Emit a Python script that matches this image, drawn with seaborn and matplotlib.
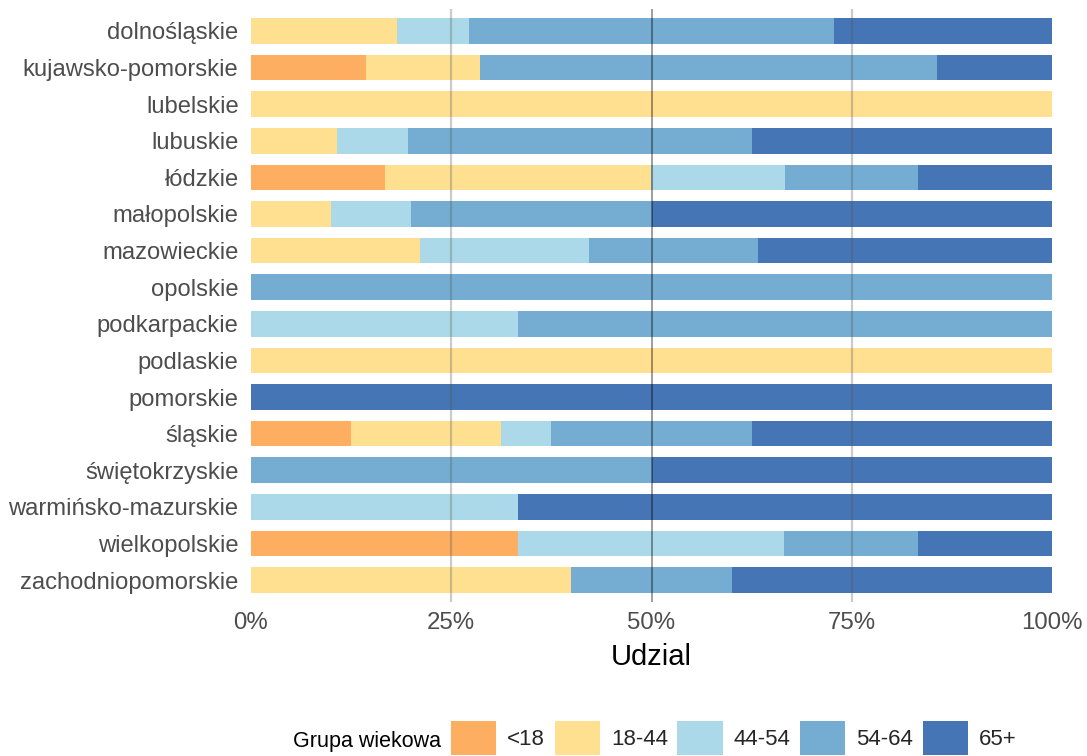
import numpy as np
import pandas as pd
import seaborn as sns
import matplotlib.pyplot as plt
from matplotlib.patches import Patch
from matplotlib.ticker import PercentFormatter

wojewodztwa = ['dolnośląskie', 'kujawsko-pomorskie', 'lubelskie', 'lubuskie', 'łódzkie',
               'małopolskie', 'mazowieckie', 'opolskie', 'podkarpackie', 'podlaskie',
               'pomorskie', 'śląskie', 'świętokrzyskie', 'warmińsko-mazurskie',
               'wielkopolskie', 'zachodniopomorskie']
grupy = ['<18', '18-44', '44-54', '54-64', '65+']

# udzial grup wiekowych (%)
lt18 = [0, 14.3, 0, 0, 16.7, 0, 0, 0, 0, 0, 0, 12.5, 0, 0, 33.3, 0]
g18_44 = [18.2, 14.3, 100, 10.7, 33.3, 10, 21.1, 0, 0, 100, 0, 18.75, 0, 0, 0, 40]
g44_54 = [9.1, 0, 0, 8.9, 16.7, 10, 21.1, 0, 33.3, 0, 0, 6.25, 0, 33.3, 33.3, 0]
g54_64 = [45.5, 57.1, 0, 42.9, 16.7, 30, 21.1, 100, 66.7, 0, 0, 25, 50, 0, 16.7, 20]
g65 = [27.3, 14.3, 0, 37.5, 16.7, 50, 36.8, 0, 0, 0, 100, 37.5, 50, 66.7, 16.7, 40]

kolory = ['#FDAE61', '#FEE090', '#ABD9E9', '#74ADD1', '#4575B4']

df = pd.DataFrame({'woj': wojewodztwa, '<18': lt18, '18-44': g18_44,
                   '44-54': g44_54, '54-64': g54_64, '65+': g65})
vals = df[grupy].to_numpy(dtype=float)
vals = vals / vals.sum(axis=1, keepdims=True)
cum = np.cumsum(vals, axis=1)

sns.set_style('white')
plt.rcParams['font.family'] = ['Liberation Sans', 'DejaVu Sans']

fig = plt.figure(figsize=(10.87, 7.56), dpi=100)
ax = fig.add_axes([251 / 1087, 1 - 602 / 756, (1052 - 251) / 1087, (602 - 9) / 756])

# skumulowane slupki: od najdluzszego do najkrotszego
for i in range(len(grupy) - 1, -1, -1):
    plot_df = pd.DataFrame({'woj': wojewodztwa, 'x': cum[:, i]})
    sns.barplot(data=plot_df, x='x', y='woj', order=wojewodztwa, orient='h',
                color=kolory[i], saturation=1, width=0.7, ax=ax, linewidth=0,
                errorbar=None)

for x in [0.25, 0.75]:
    ax.axvline(x, color='#555555', alpha=0.3, lw=1.6, zorder=5)
ax.axvline(0.5, color='black', alpha=0.45, lw=1.2, zorder=6)

ax.set_xlim(0, 1)
ax.set_ylim(len(wojewodztwa) - 0.4, -0.6)
ax.set_xticks([0, 0.25, 0.5, 0.75, 1])
ax.xaxis.set_major_formatter(PercentFormatter(1.0, decimals=0))
ax.tick_params(axis='x', labelsize=17.3, colors='#4D4D4D', length=0, pad=7)
ax.tick_params(axis='y', labelsize=17.1, colors='#4D4D4D', length=0, pad=9)
ax.set_xlabel('Udzial', fontsize=21, color='black', labelpad=7)
ax.set_ylabel('')
sns.despine(ax=ax, left=True, bottom=True)

handles = [Patch(facecolor=c, edgecolor='none') for c in kolory]
fig.text(293 / 1087, 1 - 741 / 756, 'Grupa wiekowa', fontsize=15.5,
         ha='left', va='center', color='black')
fig.legend(handles, grupy, loc='center left', ncol=5, frameon=False,
           bbox_to_anchor=(451 / 1087, 1 - 738 / 756), fontsize=16,
           handlelength=2.03, handleheight=2.03, handletextpad=0.5,
           columnspacing=0.43, borderpad=0, borderaxespad=0)

fig.savefig('out.png', dpi=100)
